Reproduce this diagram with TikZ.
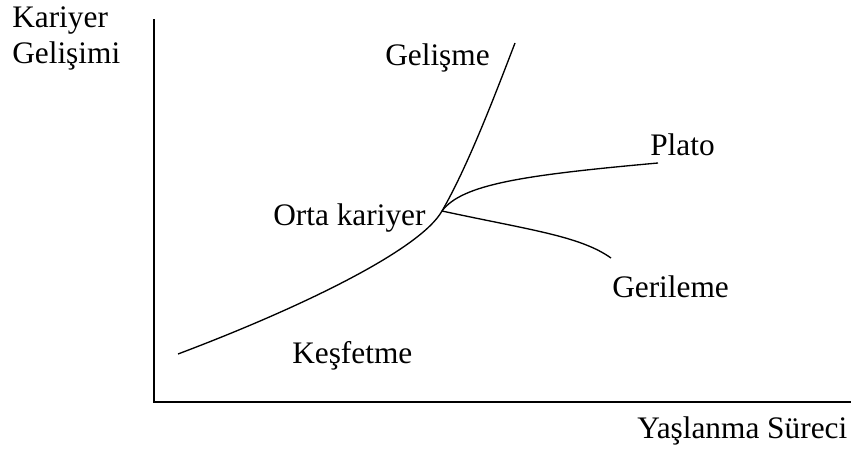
\documentclass[tikz,border=0pt]{standalone}
\usepackage{fontspec}
\setmainfont{Liberation Serif}
\usepackage{tikz}
\usetikzlibrary{positioning, calc}
\tikzset{
  lbl/.style={anchor=base west, inner sep=0pt, font=\fontsize{23.5}{28}\selectfont},
  axis/.style={line width=1.1pt},
  curve/.style={line width=1pt}
}

\begin{document}
\begin{tikzpicture}[x=0.75pt, y=-0.75pt]
    \useasboundingbox (0,0) rectangle (856,450);

    % axes
    \coordinate (origin) at (154,402);
    \coordinate (ytop) at (154,19);
    \coordinate (xend) at (851,402);
    \draw[axis] (ytop) -- (origin) -- (xend);
    \node[lbl] (ylab1) at (12,27) {Kariyer};
    \node[lbl] (ylab2) at (12,63) {Gelişimi};
    \node[lbl] (xlab) at (637,438) {Yaşlanma Süreci};

    % main curve
    \coordinate (start) at (178,354);
    \coordinate (mid) at (442,211);
    \coordinate (top) at (515,43);
    \draw[curve] (start) .. controls (300,308) and (420,250) .. (mid)
      .. controls (468,166) and (495,95) .. (top);

    % branches
    \coordinate (plato) at (658,163);
    \coordinate (geri) at (611,258);
    \draw[curve] (mid) .. controls (462,184) and (525,175) .. (plato);
    \draw[curve] (mid) .. controls (530,230) and (580,236) .. (geri);

    % stages
    \node[lbl] (kesif) at (292,363) {Keşfetme};
    \node[lbl] (orta) at (273,225) {Orta kariyer};
    \node[lbl] (gelis) at (385,65) {Gelişme};
    \node[lbl] (platolab) at (650,155) {Plato};
    \node[lbl] (gerilab) at (612,297) {Gerileme};
  \end{tikzpicture}
\end{document}
